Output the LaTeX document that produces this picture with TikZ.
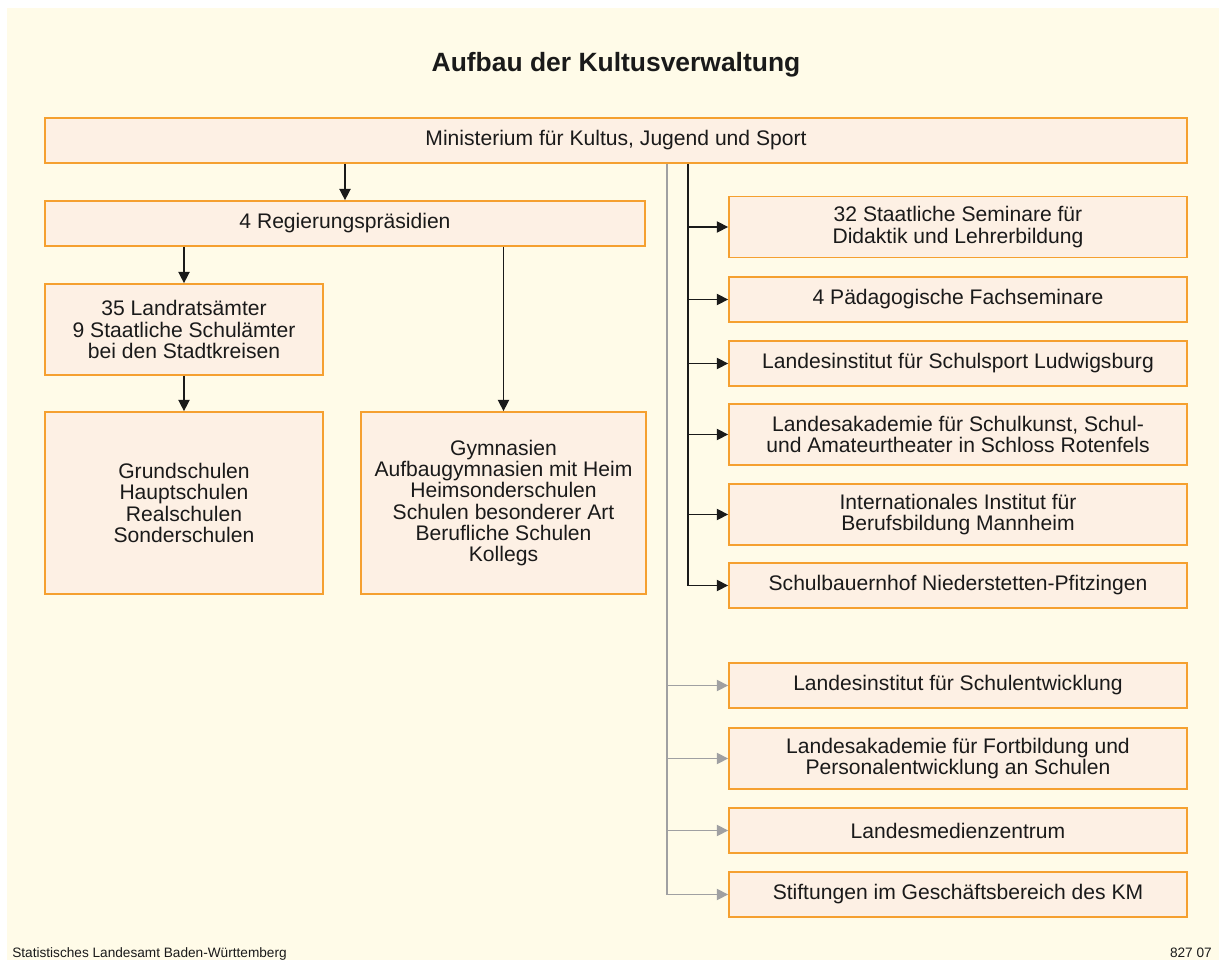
\documentclass[tikz,border=0pt]{standalone}
\usepackage{fontspec}
\setmainfont{Liberation Sans}
\usepackage{xcolor}
\usepackage{tikz}
\usetikzlibrary{calc,arrows.meta}
\definecolor{paper}{HTML}{FFFBE8}
\definecolor{boxfill}{HTML}{FDF0E4}
\definecolor{boxline}{HTML}{F5A030}
\definecolor{ink}{HTML}{1A1A1A}
\definecolor{greyline}{HTML}{A0A0A2}
\tikzset{
  box/.style={draw=boxline, fill=boxfill, line width=1.2pt, align=center, text=ink,
    inner sep=2pt, font=\fontsize{15}{15}\selectfont},
  rbox/.style={box, minimum width=11.45cm, minimum height=1.125cm},
  rboxtwo/.style={rbox, minimum height=1.525cm},
  arr/.style={draw=ink, line width=1pt, -{Triangle[length=8pt,width=8pt]}},
  garr/.style={draw=greyline, line width=1pt, -{Triangle[length=8pt,width=8pt]}},
  trunk/.style={draw=ink, line width=1pt},
  gtrunk/.style={draw=greyline, line width=1pt},
  foot/.style={text=ink, font=\fontsize{9.7}{10}\selectfont},
}

\begin{document}
\begin{tikzpicture}[x=0.025cm, y=-0.025cm]
  % page and backdrop
  \fill[white] (0,0) rectangle (1219,960);
  \fill[paper] (7,8) rectangle (1219,960);
  \useasboundingbox (0,0) rectangle (1219,960);

  \node[text=ink, font=\fontsize{18.8}{19}\selectfont\bfseries] (title) at (616,65) {Aufbau der Kultusverwaltung};

  % left column
  \node[box, minimum width=28.55cm, minimum height=1.125cm] (min) at (616,140.5) {Ministerium für Kultus, Jugend und Sport};
  \node[box, minimum width=15cm, minimum height=1.125cm] (rp) at (345,223.5) {4 Regierungspräsidien};
  \node[box, minimum width=6.95cm, minimum height=2.275cm] (lra) at (184,329.5) {35 Landratsämter\\9 Staatliche Schulämter\\bei den Stadtkreisen};
  \node[box, minimum width=6.95cm, minimum height=4.55cm] (gs) at (184,503) {Grundschulen\\Hauptschulen\\Realschulen\\Sonderschulen};
  \node[box, minimum width=7.125cm, minimum height=4.55cm] (gym) at (503.5,503) {Gymnasien\\Aufbaugymnasien mit Heim\\Heimsonderschulen\\Schulen besonderer Art\\Berufliche Schulen\\Kollegs};

  \draw[arr] (min.south -| rp.north) -- (rp.north);
  \draw[arr] (rp.south -| lra.north) -- (lra.north);
  \draw[arr] (lra.south) -- (gs.north);
  \draw[arr] (rp.south -| gym.north) -- (gym.north);

  % right column
  \node[rboxtwo] (r1) at (958,227) {32 Staatliche Seminare für\\Didaktik und Lehrerbildung};
  \node[rbox] (r2) at (958,299.5) {4 Pädagogische Fachseminare};
  \node[rbox] (r3) at (958,363.5) {Landesinstitut für Schulsport Ludwigsburg};
  \node[rboxtwo] (r4) at (958,434.5) {Landesakademie für Schulkunst, Schul-\\und Amateurtheater in Schloss Rotenfels};
  \node[rboxtwo] (r5) at (958,514.5) {Internationales Institut für\\Berufsbildung Mannheim};
  \node[rbox] (r6) at (958,585.5) {Schulbauernhof Niederstetten-Pfitzingen};
  \node[rbox] (r7) at (958,685.5) {Landesinstitut für Schulentwicklung};
  \node[rboxtwo] (r8) at (958,758.5) {Landesakademie für Fortbildung und\\Personalentwicklung an Schulen};
  \node[rbox] (r9) at (958,830.5) {Landesmedienzentrum};
  \node[rbox] (r10) at (958,894.5) {Stiftungen im Geschäftsbereich des KM};

  \coordinate (bx) at (688,0);
  \coordinate (gx) at (667,0);
  \draw[trunk] (min.south -| bx) -- (bx |- r6.west);
  \foreach \r in {r1,r2,r3,r4,r5,r6}
    \draw[arr] (bx |- \r.west) -- (\r.west);
  \draw[gtrunk] (min.south -| gx) -- (gx |- r10.west);
  \foreach \r in {r7,r8,r9,r10}
    \draw[garr] (gx |- \r.west) -- (\r.west);

  % footer
  \node[foot, anchor=base west, inner sep=0pt] (src) at (12,957) {Statistisches Landesamt Baden-Württemberg};
  \node[foot, anchor=base east, inner sep=0pt] (num) at (1212,957) {827 07};
\end{tikzpicture}
\end{document}
